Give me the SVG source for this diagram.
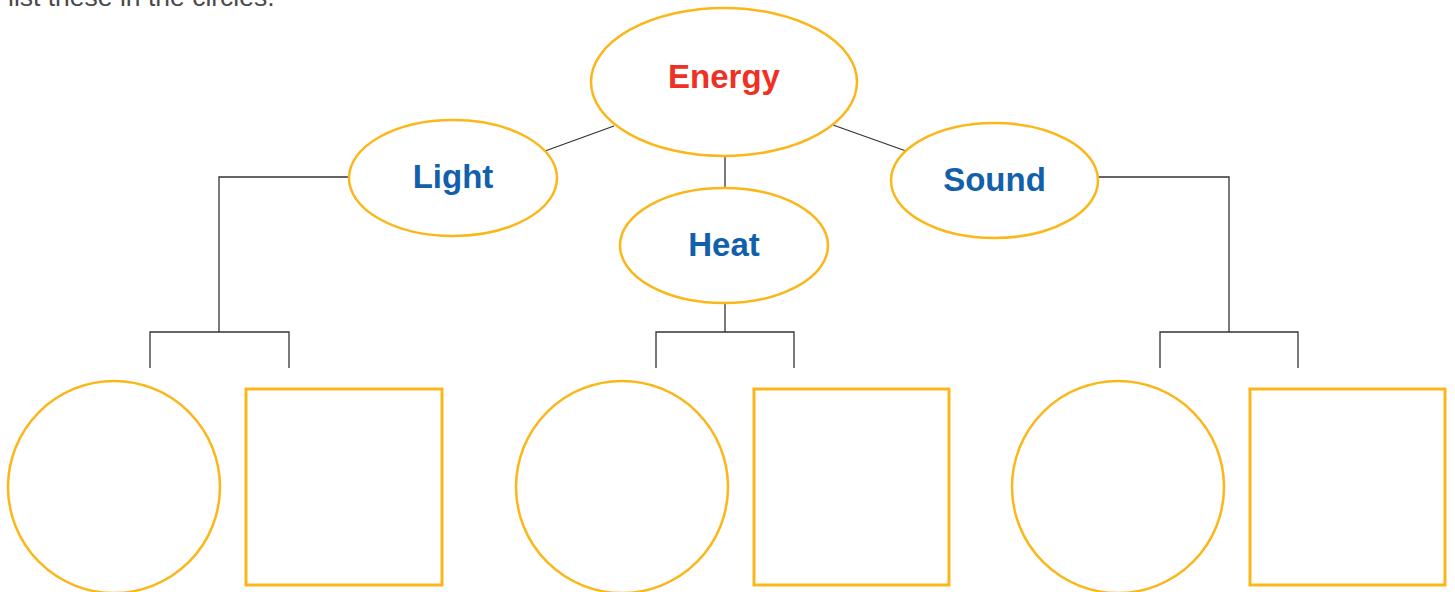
<svg xmlns="http://www.w3.org/2000/svg" width="1455" height="592" viewBox="0 0 1455 592">
<style>
.node{fill:#fff;stroke:#FBB71A;stroke-width:2.5}
.box{fill:#fff;stroke:#FBB71A;stroke-width:3}
.conn{fill:none;stroke:#333;stroke-width:1.3}
.lbl{font-family:"Liberation Sans",Arial,sans-serif;font-weight:bold;font-size:33px;text-anchor:middle;fill:#1260AC}
.top{fill:#EE3124}
.note{font-family:"Liberation Sans",Arial,sans-serif;font-size:26.5px;fill:#4a4a4a}
</style>
<rect width="1455" height="592" fill="#fff"/>
<text class="note" x="8" y="6">list these in the circles.</text>
<g id="connectors">
<line class="conn" x1="614" y1="126" x2="545" y2="151"/>
<line class="conn" x1="833" y1="125" x2="906" y2="151"/>
<line class="conn" x1="725" y1="156" x2="725" y2="188"/>
<polyline class="conn" points="349,177 219,177 219,332"/>
<polyline class="conn" points="150,368 150,332 289,332 289,368"/>
<line class="conn" x1="725" y1="303" x2="725" y2="332"/>
<polyline class="conn" points="656,368 656,332 794,332 794,368"/>
<polyline class="conn" points="1098,177 1229,177 1229,332"/>
<polyline class="conn" points="1160,368 1160,332 1298,332 1298,368"/>
</g>
<g id="energy"><ellipse class="node" cx="724" cy="82" rx="133" ry="74"/><text class="lbl top" x="724" y="88">Energy</text></g>
<g id="light"><ellipse class="node" cx="453" cy="178" rx="104" ry="58"/><text class="lbl" x="453" y="188">Light</text></g>
<g id="heat"><ellipse class="node" cx="724" cy="245.5" rx="104" ry="57.5"/><text class="lbl" x="724" y="256">Heat</text></g>
<g id="sound"><ellipse class="node" cx="994.5" cy="180.5" rx="103.5" ry="57.5"/><text class="lbl" x="994.5" y="191">Sound</text></g>
<g id="light-circle"><circle class="node" cx="114" cy="487" r="106"/></g>
<g id="light-box"><rect class="box" x="246" y="389" width="196" height="196"/></g>
<g id="heat-circle"><circle class="node" cx="622" cy="487" r="106"/></g>
<g id="heat-box"><rect class="box" x="754" y="389" width="195" height="196"/></g>
<g id="sound-circle"><circle class="node" cx="1118" cy="487" r="106"/></g>
<g id="sound-box"><rect class="box" x="1250" y="389" width="195" height="196"/></g>
</svg>
